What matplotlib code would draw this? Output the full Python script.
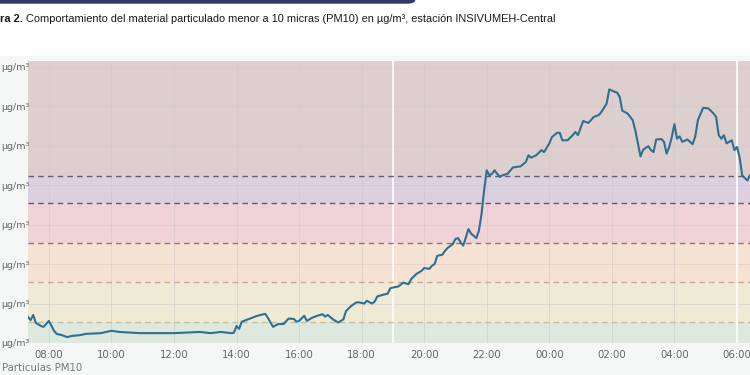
import pandas as pd
import matplotlib.pyplot as plt
import matplotlib.dates as mdates
from matplotlib.patches import Rectangle, FancyBboxPatch

# PM10 readings, INSIVUMEH-Central
times = [
    "07:20", "07:25", "07:30", "07:35", "07:45", "07:50", "08:00", "08:10", "08:15", "08:25",
    "08:35", "08:45", "09:00", "09:10", "09:40", "10:00", "10:15", "10:55", "12:00", "12:50",
    "13:10", "13:30", "13:50", "13:55", "14:00", "14:05", "14:10", "14:20", "14:30", "14:40",
    "14:55", "15:00", "15:10", "15:20", "15:30", "15:40", "15:50", "15:55", "16:00", "16:10",
    "16:15", "16:25", "16:35", "16:45", "16:50", "16:55", "17:05", "17:15", "17:25", "17:30",
    "17:40", "17:50", "17:55", "18:05", "18:10", "18:20", "18:25", "18:30", "18:40", "18:50",
    "18:55", "19:05", "19:10", "19:20", "19:25", "19:30", "19:35", "19:45", "19:55", "20:00",
    "20:10", "20:15", "20:20", "20:25", "20:35", "20:40", "20:45", "20:55", "21:00", "21:05",
    "21:10", "21:15", "21:25", "21:30", "21:35", "21:40", "21:45", "21:50", "21:55", "22:00",
    "22:05", "22:10", "22:15", "22:20", "22:25", "22:30", "22:40", "22:50", "23:05", "23:15",
    "23:20", "23:25", "23:35", "23:45", "23:50", "00:00", "00:05", "00:15", "00:20", "00:25",
    "00:35", "00:45", "00:50", "00:55", "01:05", "01:15", "01:20", "01:25", "01:35", "01:40",
    "01:50", "01:55", "02:05", "02:10", "02:15", "02:20", "02:30", "02:40", "02:45", "02:50",
    "02:55", "03:00", "03:10", "03:15", "03:20", "03:25", "03:35", "03:40", "03:45", "03:50",
    "03:55", "04:00", "04:05", "04:10", "04:15", "04:25", "04:35", "04:40", "04:45", "04:55",
    "05:05", "05:15", "05:20", "05:25", "05:30", "05:35", "05:40", "05:50", "05:55", "06:00",
    "06:05", "06:10", "06:20", "06:25",
]
pm10 = [
    66, 58, 71, 51, 43, 41, 56, 31, 23, 20,
    15, 18, 20, 23, 25, 31, 28, 25, 25, 28,
    25, 28, 25, 26, 43, 36, 54, 59, 64, 69,
    74, 64, 41, 48, 48, 62, 61, 54, 56, 69,
    56, 64, 69, 73, 67, 71, 60, 52, 60, 81,
    94, 103, 103, 100, 107, 100, 105, 118, 122, 125,
    139, 142, 143, 153, 151, 149, 162, 175, 183, 190,
    188, 196, 200, 221, 224, 234, 241, 251, 264, 266,
    255, 247, 289, 277, 272, 266, 285, 327, 387, 438,
    425, 429, 438, 429, 421, 425, 429, 445, 448, 459,
    476, 470, 476, 489, 484, 506, 522, 533, 533, 514,
    514, 527, 535, 527, 563, 558, 565, 573, 578, 586,
    607, 643, 637, 635, 624, 589, 582, 565, 539, 506,
    473, 490, 499, 489, 484, 516, 517, 510, 480, 497,
    522, 555, 518, 524, 510, 516, 504, 524, 565, 596,
    595, 582, 573, 527, 518, 527, 506, 514, 489, 497,
    471, 425, 412, 425,
]

# AQI bands for PM10 (µg/m³)
band_edges = [0, 54, 154, 254, 354, 424, 715]
band_colors = ["#dde8df", "#eeead6", "#f6e2d3", "#efd3d7", "#dbd0df", "#decfcf"]
dash_colors = ["#c9bd95", "#c9a88c", "#9c6f7c", "#6b5673", "#6b5673"]

# timestamps: the hours before 07:00 belong to the next day
ts = pd.to_datetime(["2024-01-01 " + t for t in times])
ts = [t + pd.Timedelta(days=1) if t.hour < 7 else t for t in ts]

fig = plt.figure(figsize=(7.5, 3.75), dpi=100)
fig.patches.append(Rectangle((0, 0), 1, 1 - 56 / 375, transform=fig.transFigure,
                             color="#f5f6f6", zorder=0))
fig.patches.append(FancyBboxPatch((-0.02, 0.992), 0.573, 0.03, boxstyle="round,pad=0,rounding_size=0.01",
                                  transform=fig.transFigure, color="#2d3a69", zorder=1))

ax = fig.add_axes([28 / 750, 1 - 343 / 375, 1 - 28 / 750, (343 - 61) / 375])
ax.set_zorder(2)

x0 = pd.Timestamp("2024-01-01 07:20")
x1 = pd.Timestamp("2024-01-02 06:25")
for lo, hi, c in zip(band_edges[:-1], band_edges[1:], band_colors):
    ax.axhspan(lo, hi, color=c, lw=0, zorder=0)
for y, c in zip(band_edges[1:-1], dash_colors):
    ax.axhline(y, color=c, lw=1.0, ls=(0, (4, 3)), zorder=2)

for v in [pd.Timestamp("2024-01-01 19:00"), pd.Timestamp("2024-01-02 06:00")]:
    ax.axvline(v, color="white", lw=1.2, zorder=1.5)

ax.plot(ts, pm10, color="#2f6f8f", lw=1.5, zorder=3)

ax.set_xlim(x0, x1)
ax.set_ylim(0, 715)
ax.set_yticks(range(0, 701, 100))
ax.set_yticklabels(["µg/m³"] * 8)
ax.xaxis.set_major_locator(mdates.HourLocator(byhour=range(0, 24, 2)))
ax.xaxis.set_major_formatter(mdates.DateFormatter("%H:%M"))
ax.grid(True, color="#cfc6c6", lw=0.6, alpha=0.6, zorder=1)
ax.set_axisbelow(True)
for s in ax.spines.values():
    s.set_visible(False)
ax.tick_params(length=0, labelsize=7.3, labelcolor="#666666", pad=5)
# left-aligned y labels starting near the figure edge
ax.tick_params(axis="y", pad=19.5, labelsize=6.8)
for lab in ax.get_yticklabels():
    lab.set_horizontalalignment("left")

t1 = fig.text(0.0, 1 - 22 / 375, "ra 2.", fontsize=7.9, fontweight="bold",
              family="Liberation Sans", color="#1a1a1a")
ax.annotate(" Comportamiento del material particulado menor a 10 micras (PM10) en µg/m³, estación INSIVUMEH-Central",
            xy=(1, 0), xycoords=t1, va="bottom", ha="left", fontsize=7.9,
            family="Liberation Sans", color="#1a1a1a", annotation_clip=False)

fig.text(0.003, 1 - 371 / 375, "Particulas PM10", fontsize=7.3, color="#777777")

fig.savefig("out.png", dpi=100)
